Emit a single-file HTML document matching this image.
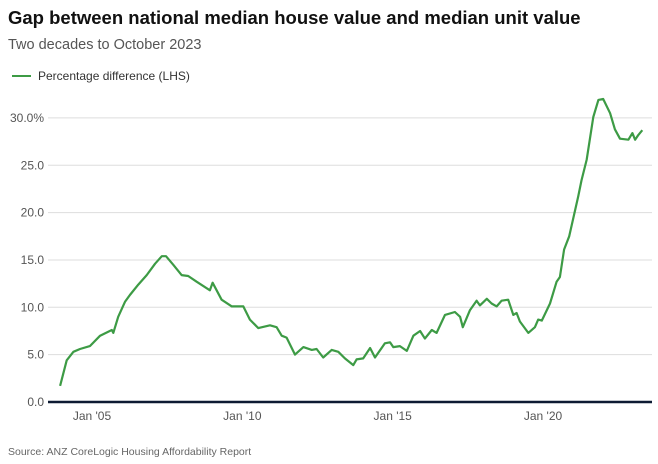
<!DOCTYPE html>
<html><head><meta charset="utf-8"><style>
body{margin:0;background:#fff;font-family:"Liberation Sans",sans-serif;}
svg{display:block}
</style></head><body>
<svg width="658" height="464" id="c">
<text x="8" y="24" font-size="18.5" font-weight="bold" fill="#111">Gap between national median house value and median unit value</text>
<text x="8" y="49" font-size="14.5" fill="#555">Two decades to October 2023</text>
<line x1="12" y1="76" x2="31" y2="76" stroke="#3d9b45" stroke-width="2"/>
<text x="38" y="80" font-size="12" fill="#333">Percentage difference (LHS)</text>
<text x="8" y="455" font-size="10.5" fill="#666">Source: ANZ CoreLogic Housing Affordability Report</text>
<g id="grid"></g><g id="xt"></g>
<path id="ln" fill="none" stroke="#3d9b45" stroke-width="2.2" stroke-linejoin="round"/>
</svg>
<script>
const years=[2003.94,2004.16,2004.38,2004.60,2004.93,2005.27,2005.66,2005.71,2005.87,2006.10,2006.26,2006.54,2006.82,2007.10,2007.32,2007.46,2007.70,2007.98,2008.20,2008.48,2008.92,2009.01,2009.31,2009.65,2010.03,2010.25,2010.53,2010.92,2011.14,2011.31,2011.47,2011.75,2012.03,2012.31,2012.47,2012.69,2012.97,2013.19,2013.41,2013.69,2013.80,2014.02,2014.25,2014.41,2014.74,2014.91,2015.02,2015.24,2015.47,2015.69,2015.91,2016.07,2016.30,2016.46,2016.74,2017.07,2017.24,2017.33,2017.57,2017.79,2017.90,2018.13,2018.29,2018.46,2018.62,2018.84,2019.01,2019.12,2019.23,2019.51,2019.73,2019.84,2019.96,2020.23,2020.45,2020.56,2020.70,2020.87,2021.17,2021.28,2021.45,2021.67,2021.84,2022.00,2022.23,2022.39,2022.56,2022.84,2022.97,2023.06,2023.17,2023.30];
const values=[1.7,4.4,5.3,5.6,5.9,7.0,7.6,7.3,9.0,10.6,11.3,12.4,13.4,14.6,15.4,15.4,14.5,13.4,13.3,12.7,11.8,12.6,10.8,10.1,10.1,8.7,7.8,8.1,7.9,7.0,6.8,5.0,5.8,5.5,5.6,4.7,5.5,5.3,4.6,3.9,4.5,4.6,5.7,4.7,6.2,6.3,5.8,5.9,5.4,7.0,7.5,6.7,7.6,7.3,9.2,9.5,9.0,7.9,9.7,10.7,10.2,10.9,10.4,10.1,10.7,10.8,9.2,9.4,8.5,7.3,7.9,8.7,8.6,10.4,12.7,13.2,16.1,17.5,21.7,23.4,25.6,30.1,31.9,32.0,30.5,28.8,27.8,27.7,28.4,27.7,28.2,28.7];
const yTicks=[0,5,10,15,20,25,30];
const yTickLabels=["0.0","5.0","10.0","15.0","20.0","25.0","30.0%"];
const xTicks=[2005,2010,2015,2020];
const xTickLabels=["Jan '05","Jan '10","Jan '15","Jan '20"];
const X=y=>92+(y-2005)*30.07, Y=v=>402-v*9.47;
const NS="http://www.w3.org/2000/svg";
const g=document.getElementById('grid'), xt=document.getElementById('xt');
yTicks.forEach((t,i)=>{
 const l=document.createElementNS(NS,'line');
 l.setAttribute('x1',48);l.setAttribute('x2',652);l.setAttribute('y1',Y(t));l.setAttribute('y2',Y(t));
 l.setAttribute('stroke',t===0?'#0d1b33':'#ddd');l.setAttribute('stroke-width',t===0?2.5:1);
 
 
 g.appendChild(l);
 const tx=document.createElementNS(NS,'text');
 tx.setAttribute('x',44);tx.setAttribute('y',Y(t)+4);tx.setAttribute('text-anchor','end');
 tx.setAttribute('font-size','12');tx.setAttribute('fill','#555');tx.textContent=yTickLabels[i];
 
 
 g.appendChild(tx);
});
xTicks.forEach((t,i)=>{
 const tx=document.createElementNS(NS,'text');
 tx.setAttribute('x',X(t));tx.setAttribute('y',420);tx.setAttribute('text-anchor','middle');
 tx.setAttribute('font-size','12');tx.setAttribute('fill','#555');tx.textContent=xTickLabels[i];
 
 
 xt.appendChild(tx);
});
document.getElementById('ln').setAttribute('d',years.map((y,i)=>(i?'L':'M')+X(y).toFixed(1)+','+Y(values[i]).toFixed(1)).join(''));
</script>
</body></html>
